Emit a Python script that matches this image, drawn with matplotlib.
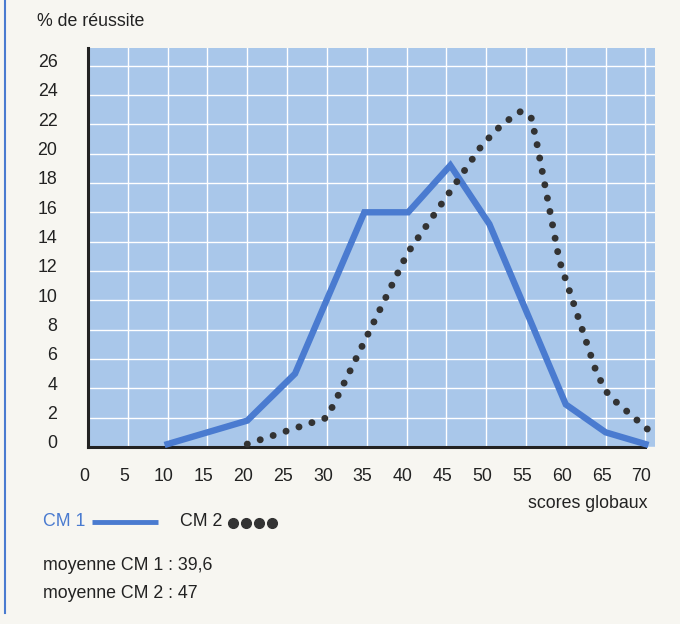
import matplotlib
matplotlib.use("Agg")
import matplotlib.pyplot as plt
from matplotlib.lines import Line2D
import matplotlib.transforms as mtransforms

# Données
cm1_x = [10, 20, 26, 34.7, 40.2, 45.5, 50.4, 60, 65, 70]
cm1_y = [0.2, 1.8, 5.0, 16.0, 16.0, 19.2, 15.2, 2.9, 1.0, 0.2]

cm2_x = [20, 30, 31.3, 40.1, 45.7, 49.5, 52, 54.4, 55.7, 56.4, 59.2, 63.9, 65.4, 70.5]
cm2_y = [0.2, 2.0, 3.4, 13.2, 17.6, 20.6, 22.0, 22.9, 22.4, 20.6, 12.7, 5.0, 3.5, 1.1]

x_ticks = list(range(0, 75, 5))
y_ticks = list(range(0, 28, 2))

BG = "#f7f6f1"
FILL = "#a9c7ea"
BLUE = "#4a7bd0"
DARK = "#333333"
TXT = "#222222"
FS = 12.8

plt.rcParams["font.family"] = "Liberation Sans"

fig = plt.figure(figsize=(6.8, 6.24), dpi=100, facecolor=BG)
ax = fig.add_axes([88 / 680, 1 - 447 / 624, (655 - 88) / 680, (447 - 48) / 624])
ax.set_facecolor(FILL)
ax.set_xlim(0, 71.2)
ax.set_ylim(0, 27.2)

ax.set_xticks(x_ticks)
ax.set_yticks(y_ticks)
ax.grid(True, color="white", linewidth=1.0)
ax.set_axisbelow(True)
ax.tick_params(length=0, labelsize=FS, colors=TXT)
ax.tick_params(axis="x", pad=15)
ax.tick_params(axis="y", pad=22)
for lab in ax.get_yticklabels():
    lab.set_transform(lab.get_transform() + mtransforms.ScaledTranslation(0, 5 / 100, fig.dpi_scale_trans))
for lab in ax.get_xticklabels():
    lab.set_transform(lab.get_transform() + mtransforms.ScaledTranslation(-4 / 100, 0, fig.dpi_scale_trans))

for s in ["top", "right"]:
    ax.spines[s].set_visible(False)
ax.spines["left"].set_linewidth(2.2)
ax.spines["left"].set_color(TXT)
ax.spines["bottom"].set_linewidth(2.2)
ax.spines["bottom"].set_color(TXT)
ax.spines["bottom"].set_bounds(0, 70)

ax.plot(cm1_x, cm1_y, color=BLUE, linewidth=4.6, solid_joinstyle="miter", clip_on=False, zorder=3)
ax.plot(cm2_x, cm2_y, color=DARK, linewidth=5, linestyle=(0, (0.01, 1.95)),
        dash_capstyle="round", clip_on=False, zorder=4)

# textes
fig.text(37 / 680, 1 - 22 / 624, "% de réussite", fontsize=FS, va="center", ha="left", color=TXT)
fig.text(648 / 680, 1 - 503 / 624, "scores globaux", fontsize=FS, va="center", ha="right", color=TXT)
fig.text(43 / 680, 1 - 522 / 624, "CM 1", fontsize=FS, va="center", ha="left", color=BLUE)
fig.add_artist(Line2D([92 / 680, 158 / 680], [1 - 522 / 624] * 2, color=BLUE, linewidth=3.5,
                      transform=fig.transFigure, solid_capstyle="butt"))
fig.text(180 / 680, 1 - 522 / 624, "CM 2", fontsize=FS, va="center", ha="left", color=TXT)
fig.add_artist(Line2D([233 / 680, 246 / 680, 259 / 680, 272 / 680], [1 - 523 / 624] * 4, color=DARK,
                      linestyle="none", marker="o", markersize=7, transform=fig.transFigure))
fig.text(43 / 680, 1 - 565 / 624, "moyenne CM 1 : 39,6", fontsize=FS, va="center", ha="left", color=TXT)
fig.text(43 / 680, 1 - 593 / 624, "moyenne CM 2 : 47", fontsize=FS, va="center", ha="left", color=TXT)

# filet bleu à gauche
fig.add_artist(Line2D([5 / 680, 5 / 680], [1.0, 1 - 613 / 624], color=BLUE, linewidth=1.5,
                      transform=fig.transFigure))

fig.savefig("out.png", dpi=100, facecolor=BG)
